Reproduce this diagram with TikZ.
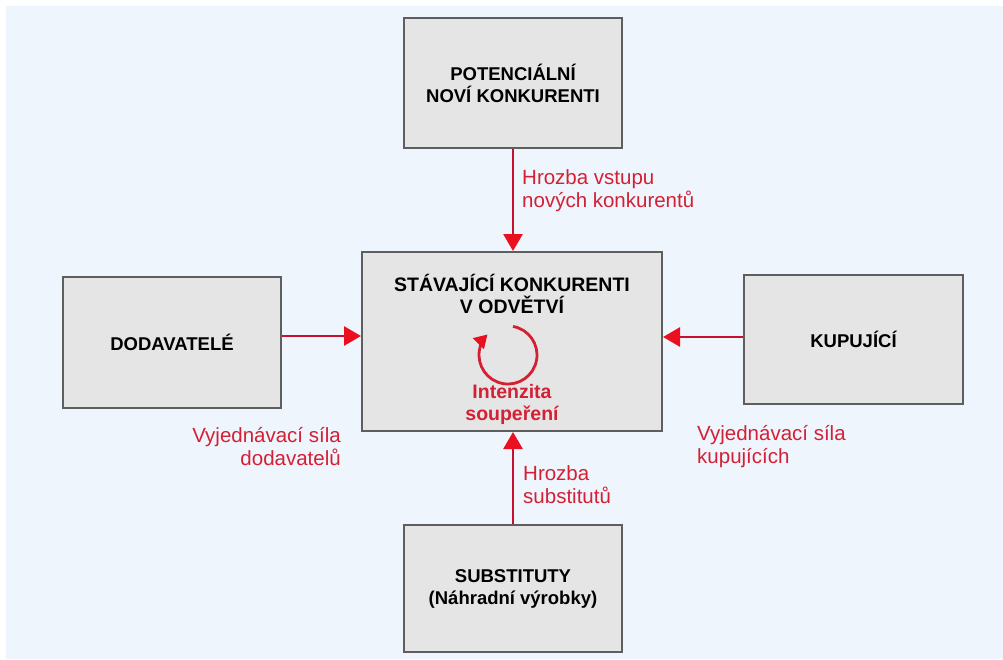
\documentclass[tikz,border=0pt]{standalone}
\usepackage{fontspec}
\setmainfont{Liberation Sans}
\usetikzlibrary{arrows.meta}
\definecolor{bgblue}{HTML}{EEF5FC}
\definecolor{boxgray}{HTML}{E5E5E5}
\definecolor{boxline}{HTML}{5E5E5E}
\definecolor{arrred}{HTML}{C8102E}
\definecolor{headred}{HTML}{EA1020}
\definecolor{txtred}{HTML}{D42035}
\begin{document}
\begin{tikzpicture}[x=1pt,y=-1pt,
  forcebox/.style={draw=boxline, line width=2pt, fill=boxgray, inner sep=0pt, align=center,
    font=\fontsize{18.5}{22}\selectfont\bfseries},
  boxtxt/.style={inner sep=0pt, align=center, font=\fontsize{19.5}{22}\selectfont\bfseries},
  force/.style={draw=arrred, line width=2.8pt,
    -{Triangle[length=17pt,width=19pt,color=headred]}},
  lbl/.style={text=txtred, inner sep=0pt, font=\fontsize{20.5}{23}\selectfont}]
\useasboundingbox (0,0) rectangle (1003,659);
\fill[white] (0,0) rectangle (1003,659);
\fill[bgblue] (6,6) rectangle (1003,659);
% boxes
\node[forcebox, minimum width=218pt, minimum height=130pt] (top) at (513,83)
  {POTENCIÁLNÍ\\NOVÍ KONKURENTI};
\node[forcebox, minimum width=300pt, minimum height=179pt] (center) at (512,341.5) {};
\node[forcebox, minimum width=218pt, minimum height=131pt] (left) at (172,342.5) {DODAVATELÉ};
\node[forcebox, minimum width=219pt, minimum height=129pt] (right) at (853.5,339.5) {KUPUJÍCÍ};
\node[forcebox, minimum width=218pt, minimum height=127pt] (bottom) at (513,588.5)
  {SUBSTITUTY\\(Náhradní výrobky)};
% center contents
\node[boxtxt] (ctitle) at (512,294) {STÁVAJÍCÍ KONKURENTI\\V ODVĚTVÍ};
\node[boxtxt, text=txtred] (crival) at (512,404) {Intenzita\\soupeření};
\coordinate (cyc) at (508,355);
\draw[draw=txtred, line width=2.8pt, -{Triangle[length=13pt,width=15pt,color=headred]}]
  (cyc) ++(-80:29) arc[start angle=-80, end angle=225, radius=29];
% connectors
\draw[force] (top.south) -- (top.south |- center.north);
\draw[force] ([yshift=6.5pt]left.east) -- ([yshift=6.5pt]left.east -| center.west);
\draw[force] ([yshift=2.5pt]right.west) -- ([yshift=2.5pt]right.west -| center.east);
\draw[force] (bottom.north) -- (bottom.north |- center.south);
% labels
\node[lbl, anchor=west, align=left] (lnew) at (522,191) {Hrozba vstupu\\nových konkurentů};
\node[lbl, anchor=east, align=right] (lsup) at (341,447) {Vyjednávací síla\\dodavatelů};
\node[lbl, anchor=west, align=left] (lbuy) at (697,447) {Vyjednávací síla\\kupujících};
\node[lbl, anchor=west, align=left] (lsub) at (523,485) {Hrozba\\substitutů};
\end{tikzpicture}
\end{document}
